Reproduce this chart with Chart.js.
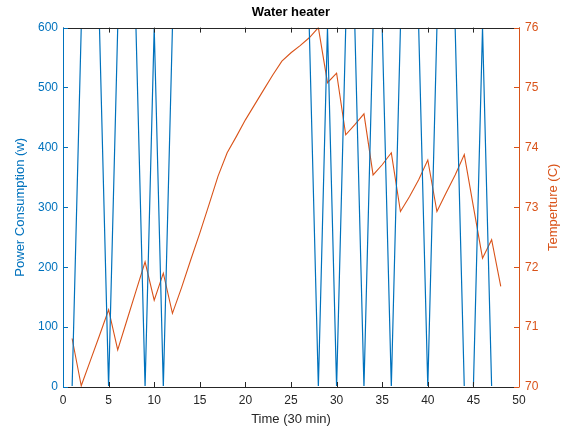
<!DOCTYPE html>
<html>
<head>
<meta charset="utf-8">
<script src="https://cdn.jsdelivr.net/npm/chart.js@4"></script>
<style>
  body { margin: 0; background: #fff; }
  canvas { display: block; }
</style>
</head>
<body>
<canvas id="heaterChart" width="571" height="429"></canvas>
<script>
// time steps (30 min each)
const timeSteps = [1, 2, 3, 4, 5, 6, 7, 8, 9, 10, 11, 12, 13, 14, 15, 16, 17, 18, 19, 20, 21, 22, 23, 24,
    25, 26, 27, 28, 29, 30, 31, 32, 33, 34, 35, 36, 37, 38, 39, 40, 41, 42, 43, 44, 45, 46, 47, 48];

const powerW = [0, 600, 600, 600, 0, 600, 600, 600, 0, 600, 0, 600, 600, 600, 600, 600, 600, 600, 600, 600, 600, 600, 600, 600,
    600, 600, 600, 0, 600, 0, 600, 600, 0, 600, 600, 0, 600, 600, 600, 0, 600, 600, 600, 0, 0, 600, 0, 0];

const tempC = [70.81, 70.02, 70.44, 70.86, 71.29, 70.62, 71.11, 71.60, 72.09, 71.45, 71.90, 71.23, 71.66, 72.12, 72.57, 73.04,
    73.52, 73.91, 74.18, 74.46, 74.71, 74.96, 75.21, 75.44, 75.58, 75.70, 75.83, 76.0, 75.08, 75.24, 74.21, 74.38,
    74.56, 73.54, 73.71, 73.91, 72.93, 73.18, 73.46, 73.79, 72.93, 73.24, 73.54, 73.88, 73.01, 72.15, 72.46, 71.68];

const xTicks = [0, 5, 10, 15, 20, 25, 30, 35, 40, 45, 50];
const powerTicks = [0, 100, 200, 300, 400, 500, 600];
const tempTicks = [70, 71, 72, 73, 74, 75, 76];

const blue = "#0072BD";
const orange = "#D95319";
const dark = "#262626";
const fontFamily = "'Liberation Sans', Arial, Helvetica, sans-serif";

// MATLAB-like box with inward ticks, plus the right axis label read bottom-to-top
const matlabBox = {
    id: "matlabBox",
    afterDraw(chart) {
        const ctx = chart.ctx;
        const a = chart.chartArea;
        const sx = chart.scales.x, yl = chart.scales.yPower, yr = chart.scales.yTemp;
        const len = 5;
        ctx.save();
        ctx.lineWidth = 1;
        ctx.strokeStyle = dark;
        xTicks.forEach(v => {
            const px = Math.round(sx.getPixelForValue(v)) + 0.5;
            ctx.beginPath();
            ctx.moveTo(px, a.bottom); ctx.lineTo(px, a.bottom - len);
            ctx.moveTo(px, a.top); ctx.lineTo(px, a.top + len);
            ctx.stroke();
        });
        ctx.beginPath();
        ctx.moveTo(a.left, Math.round(a.top) + 0.5); ctx.lineTo(a.right, Math.round(a.top) + 0.5);
        ctx.moveTo(a.left, Math.round(a.bottom) + 0.5); ctx.lineTo(a.right, Math.round(a.bottom) + 0.5);
        ctx.stroke();

        ctx.strokeStyle = blue;
        ctx.beginPath();
        ctx.moveTo(Math.round(a.left) + 0.5, a.top); ctx.lineTo(Math.round(a.left) + 0.5, a.bottom + 0.5);
        powerTicks.forEach(v => {
            const py = Math.round(yl.getPixelForValue(v)) + 0.5;
            ctx.moveTo(a.left, py); ctx.lineTo(a.left + len, py);
        });
        ctx.stroke();

        ctx.strokeStyle = orange;
        ctx.beginPath();
        ctx.moveTo(Math.round(a.right) + 0.5, a.top); ctx.lineTo(Math.round(a.right) + 0.5, a.bottom + 0.5);
        tempTicks.forEach(v => {
            const py = Math.round(yr.getPixelForValue(v)) + 0.5;
            ctx.moveTo(a.right, py); ctx.lineTo(a.right - len, py);
        });
        ctx.stroke();

        ctx.translate(553, (a.top + a.bottom) / 2);
        ctx.rotate(-Math.PI / 2);
        ctx.fillStyle = orange;
        ctx.font = "13px " + fontFamily;
        ctx.textAlign = "center";
        ctx.textBaseline = "middle";
        ctx.fillText("Temperture (C)", 0, 0);
        ctx.restore();
    }
};

const ctx = document.getElementById("heaterChart").getContext("2d");

new Chart(ctx, {
    type: "line",
    data: {
        labels: timeSteps,
        datasets: [{
            label: "Power Consumption (w)",
            data: timeSteps.map((t, i) => ({ x: t, y: powerW[i] })),
            borderColor: blue,
            borderWidth: 1.2,
            pointRadius: 0,
            tension: 0,
            clip: { left: 0, right: 0, top: -1, bottom: -1 },
            yAxisID: "yPower"
        },
        {
            label: "Temperture (C)",
            data: timeSteps.map((t, i) => ({ x: t, y: tempC[i] })),
            borderColor: orange,
            borderWidth: 1.1,
            pointRadius: 0,
            tension: 0,
            yAxisID: "yTemp"
        }]
    },
    options: {
        responsive: false,
        animation: false,
        layout: { padding: { left: 0, right: 0, top: 0, bottom: 0 } },
        plugins: {
            legend: { display: false },
            tooltip: { enabled: false },
            title: {
                display: true,
                text: "Water heater",
                fullSize: false,
                color: "#000",
                font: { family: fontFamily, size: 13, weight: "bold", lineHeight: 1.2 },
                padding: { top: 5, bottom: 7 }
            }
        },
        scales: {
            x: {
                type: "linear",
                min: 0,
                max: 50,
                afterBuildTicks: s => { s.ticks = xTicks.map(v => ({ value: v })); },
                afterFit: s => { s.height = 42; },
                grid: { display: false, drawTicks: false },
                border: { display: false },
                ticks: { color: dark, padding: 6, maxRotation: 0, font: { family: fontFamily, size: 12 } },
                title: {
                    display: true,
                    text: "Time (30 min)",
                    color: dark,
                    font: { family: fontFamily, size: 13 },
                    padding: { top: 0, bottom: 2 }
                }
            },
            yPower: {
                type: "linear",
                position: "left",
                min: 0,
                max: 600,
                afterBuildTicks: s => { s.ticks = powerTicks.map(v => ({ value: v })); },
                afterFit: s => { s.width = 63; },
                grid: { display: false, drawTicks: false },
                border: { display: false },
                ticks: { color: blue, padding: 5, font: { family: fontFamily, size: 12 } },
                title: {
                    display: true,
                    text: "Power Consumption (w)",
                    color: blue,
                    font: { family: fontFamily, size: 13 },
                    padding: { top: 13, bottom: 0 }
                }
            },
            yTemp: {
                type: "linear",
                position: "right",
                min: 70,
                max: 76,
                afterBuildTicks: s => { s.ticks = tempTicks.map(v => ({ value: v })); },
                afterFit: s => { s.width = 52; },
                grid: { display: false, drawTicks: false },
                border: { display: false },
                ticks: { color: orange, padding: 6, font: { family: fontFamily, size: 12 } },
                title: { display: false }
            }
        }
    },
    plugins: [matlabBox]
});
</script>
</body>
</html>
